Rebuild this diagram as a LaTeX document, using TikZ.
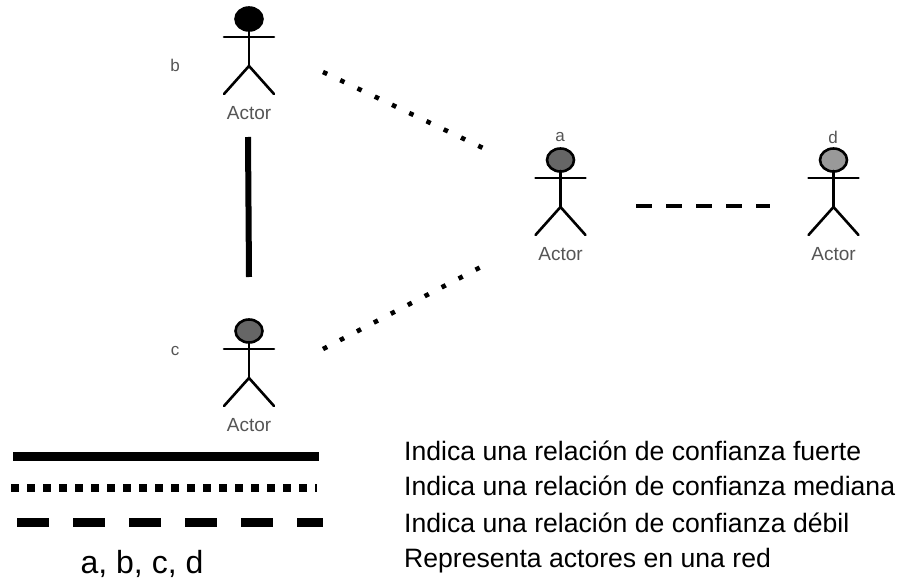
\documentclass[tikz,border=0pt]{standalone}
\usepackage{fontspec}
\setmainfont{Liberation Sans}
\usetikzlibrary{shapes.geometric}
\definecolor{darkhead}{HTML}{666666}
\definecolor{lighthead}{HTML}{999999}
\definecolor{labelgray}{HTML}{555555}
\tikzset{
  x=1pt,y=-1pt,
  limb/.style={draw=black,line width=2.6pt,line cap=round},
  head/.style={draw=black,ellipse,line width=2.6pt,minimum width=27pt,minimum height=23pt,inner sep=0pt},
  actorlabel/.style={text=labelgray,font=\fontsize{19}{21}\selectfont,inner sep=0pt},
  smalllabel/.style={text=labelgray,font=\fontsize{17}{19}\selectfont,inner sep=0pt},
  legendtext/.style={anchor=west,text=black,font=\fontsize{26.6}{29}\selectfont,inner sep=0pt},
  solidtie/.style={line width=6pt},
  dottedtie/.style={line width=4.6pt,dash pattern=on 4.6pt off 14.5pt},
  dashedtie/.style={line width=4.5pt,dash pattern=on 16pt off 14pt},
  legendsolid/.style={line width=9pt},
  legenddotted/.style={line width=8pt,dash pattern=on 8pt off 8pt},
  legenddashed/.style={line width=8.5pt,dash pattern=on 32pt off 24pt},
}
\newcommand{\stickman}[5]{%
  \node[head,fill=#4] (#1head) at (#2,#3) {};
  \coordinate (#1neck) at (#2,#3+11);
  \coordinate (#1hip) at (#2,#3+47);
  \coordinate (#1armL) at (#2-25,#3+18);
  \coordinate (#1armR) at (#2+25,#3+18);
  \coordinate (#1footL) at (#2-25,#3+75);
  \coordinate (#1footR) at (#2+25,#3+75);
  \draw[limb] (#1neck) -- (#1hip);
  \draw[limb] (#1armL) -- (#1armR);
  \draw[limb] (#1footL) -- (#1hip) -- (#1footR);
  \node[actorlabel] (#5) at (#2,#3+94) {Actor};
}
\begin{document}
\begin{tikzpicture}
\useasboundingbox (0,0) rectangle (899,583);
\stickman{b}{249}{19}{black}{actorb}
\stickman{c}{249}{331}{darkhead}{actorc}
\stickman{a}{560.5}{160}{darkhead}{actora}
\stickman{d}{833.5}{160}{lighthead}{actord}
\node[smalllabel] (lblb) at (175,65) {b};
\node[smalllabel] (lblc) at (175,351) {c};
\node[smalllabel] (lbla) at (560,137) {a};
\node[smalllabel] (lbld) at (833,137) {d};
\coordinate (bc1) at (248,137);
\coordinate (bc2) at (249,277);
\draw[solidtie] (bc1) -- (bc2);
\coordinate (ba1) at (323,72);
\coordinate (ba2) at (484,148.5);
\draw[dottedtie] (ba1) -- (ba2);
\coordinate (ca1) at (323,349);
\coordinate (ca2) at (480.5,267.2);
\draw[dottedtie] (ca1) -- (ca2);
\coordinate (ad1) at (636,206);
\coordinate (ad2) at (770,206);
\draw[dashedtie] (ad1) -- (ad2);
\coordinate (ls1) at (13,456.5);
\coordinate (ls2) at (319,456.5);
\draw[legendsolid] (ls1) -- (ls2);
\coordinate (lp1) at (11,488);
\coordinate (lp2) at (317,488);
\draw[legenddotted] (lp1) -- (lp2);
\coordinate (ld1) at (17,522.5);
\coordinate (ld2) at (323,522.5);
\draw[legenddashed] (ld1) -- (ld2);
\node[inner sep=0pt,font=\fontsize{32}{35}\selectfont] (keys) at (142,564) {a, b, c, d};
\node[legendtext] (t1) at (404,451) {Indica una relación de confianza fuerte};
\node[legendtext] (t2) at (404,486) {Indica una relación de confianza mediana};
\node[legendtext] (t3) at (404,523) {Indica una relación de confianza débil};
\node[legendtext] (t4) at (404,561) {Representa actores en una red};
\end{tikzpicture}
\end{document}
